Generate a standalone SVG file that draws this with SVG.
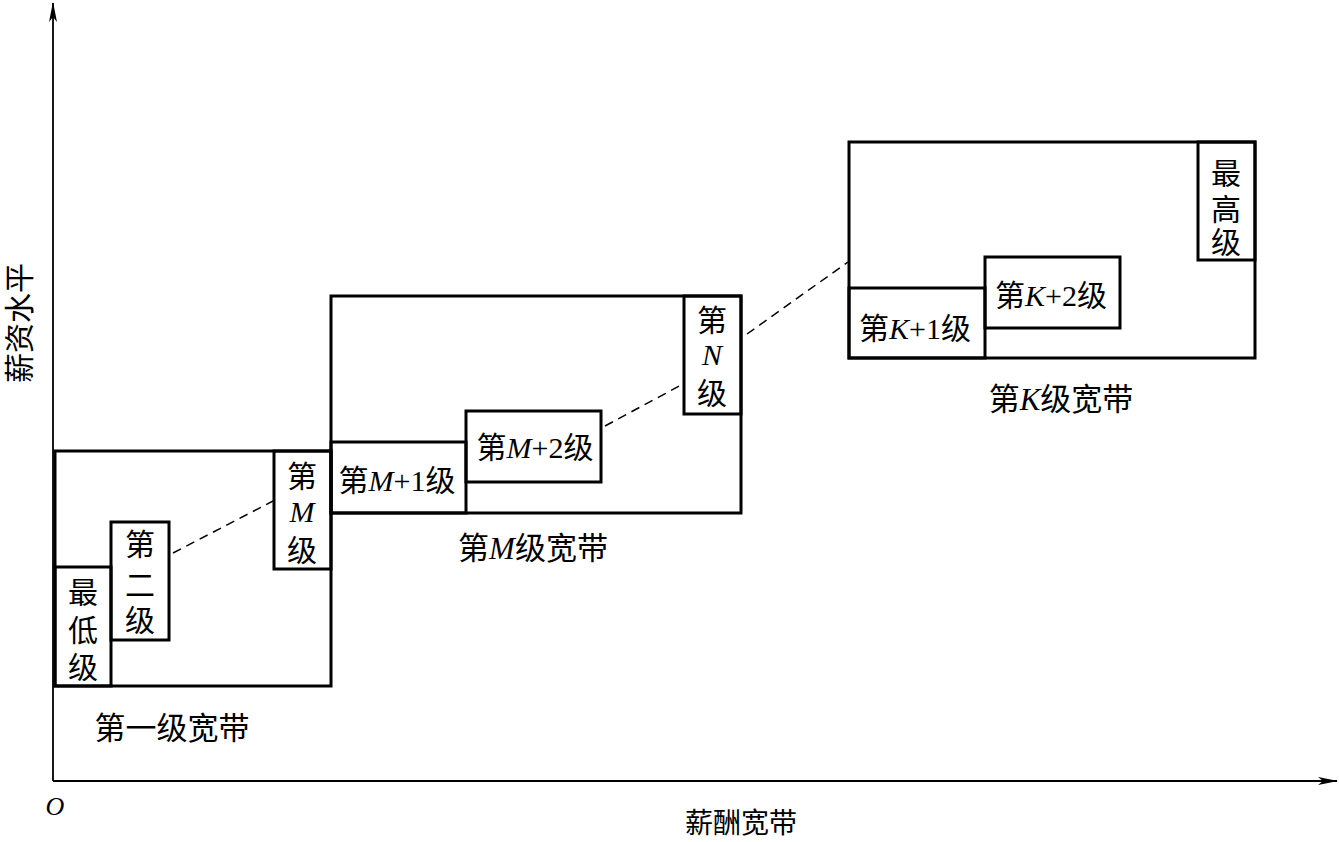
<svg xmlns="http://www.w3.org/2000/svg" width="1339" height="842" viewBox="0 0 1339 842">
<style>
.box{fill:none;stroke:#000;stroke-width:3;stroke-linejoin:miter}
.axis{stroke:#000;stroke-width:1.8;fill:none}
.dash{stroke:#000;stroke-width:1.5;stroke-dasharray:9 6;fill:none}
text{font-family:"Noto Sans CJK SC","Liberation Serif",serif;font-size:30px;fill:#000;text-anchor:middle}
.band{font-size:31px}
.it{font-family:"Liberation Serif",serif;font-style:italic}
.rm{font-family:"Liberation Serif",serif}
</style>
<defs>
<marker id="arr" markerWidth="20" markerHeight="10" refX="19" refY="5" orient="auto" markerUnits="userSpaceOnUse">
<path d="M0,1 L20,5 L0,9 L5,5 Z" fill="#000"/>
</marker>
</defs>
<rect width="1339" height="842" fill="#fff"/>
<g id="axes">
<line class="axis" x1="53" y1="781" x2="53" y2="3" marker-end="url(#arr)"/>
<line class="axis" x1="53" y1="781" x2="1337" y2="781" marker-end="url(#arr)"/>
<text class="it" x="55" y="815" style="font-size:26px">O</text>
<text x="741" y="833" style="font-size:28px">薪酬宽带</text>
<text transform="translate(30,323) rotate(-90)">薪资水平</text>
</g>
<g id="band1">
<rect class="box" x="55" y="451" width="276" height="235"/>
<text class="band" x="172" y="739">第一级宽带</text>
</g>
<g id="lowest">
<rect class="box" x="55" y="567" width="56" height="119"/>
<text x="83" y="603">最<tspan x="83" dy="38">低</tspan><tspan x="83" dy="37">级</tspan></text>
</g>
<g id="second">
<rect class="box" x="111" y="522" width="58" height="118"/>
<text x="140" y="555">第<tspan x="140" dy="41">二</tspan><tspan x="140" dy="35">级</tspan></text>
</g>
<g id="levelM">
<rect class="box" x="274" y="451" width="57" height="118"/>
<text x="302" y="487">第<tspan class="it" x="302" dy="35">M</tspan><tspan x="302" dy="39">级</tspan></text>
</g>
<g id="bandM">
<rect class="box" x="331" y="296" width="410" height="217"/>
<text class="band" x="533" y="559">第<tspan class="it">M</tspan>级宽带</text>
</g>
<g id="levelM1">
<rect class="box" x="331" y="442" width="135" height="71"/>
<text x="397" y="491">第<tspan class="it">M</tspan><tspan class="rm">+1</tspan>级</text>
</g>
<g id="levelM2">
<rect class="box" x="466" y="411" width="135" height="71"/>
<text x="535" y="458">第<tspan class="it">M</tspan><tspan class="rm">+2</tspan>级</text>
</g>
<g id="levelN">
<rect class="box" x="684" y="296" width="57" height="118"/>
<text x="712" y="331">第<tspan class="it" x="712" dy="34">N</tspan><tspan x="712" dy="39">级</tspan></text>
</g>
<g id="bandK">
<rect class="box" x="849" y="142" width="406" height="216"/>
<text class="band" x="1061" y="410">第<tspan class="it">K</tspan>级宽带</text>
</g>
<g id="levelK1">
<rect class="box" x="849" y="288" width="136" height="70"/>
<text x="915" y="339">第<tspan class="it">K</tspan><tspan class="rm">+1</tspan>级</text>
</g>
<g id="levelK2">
<rect class="box" x="985" y="257" width="135" height="71"/>
<text x="1051" y="306">第<tspan class="it">K</tspan><tspan class="rm">+2</tspan>级</text>
</g>
<g id="highest">
<rect class="box" x="1198" y="142" width="57" height="118"/>
<text x="1226" y="184">最<tspan x="1226" dy="36">高</tspan><tspan x="1226" dy="33">级</tspan></text>
</g>
<g id="connectors">
<line class="dash" x1="173" y1="553" x2="273" y2="501"/>
<line class="dash" x1="605" y1="426" x2="683" y2="384"/>
<line class="dash" x1="747" y1="334" x2="848" y2="262"/>
</g>
</svg>
